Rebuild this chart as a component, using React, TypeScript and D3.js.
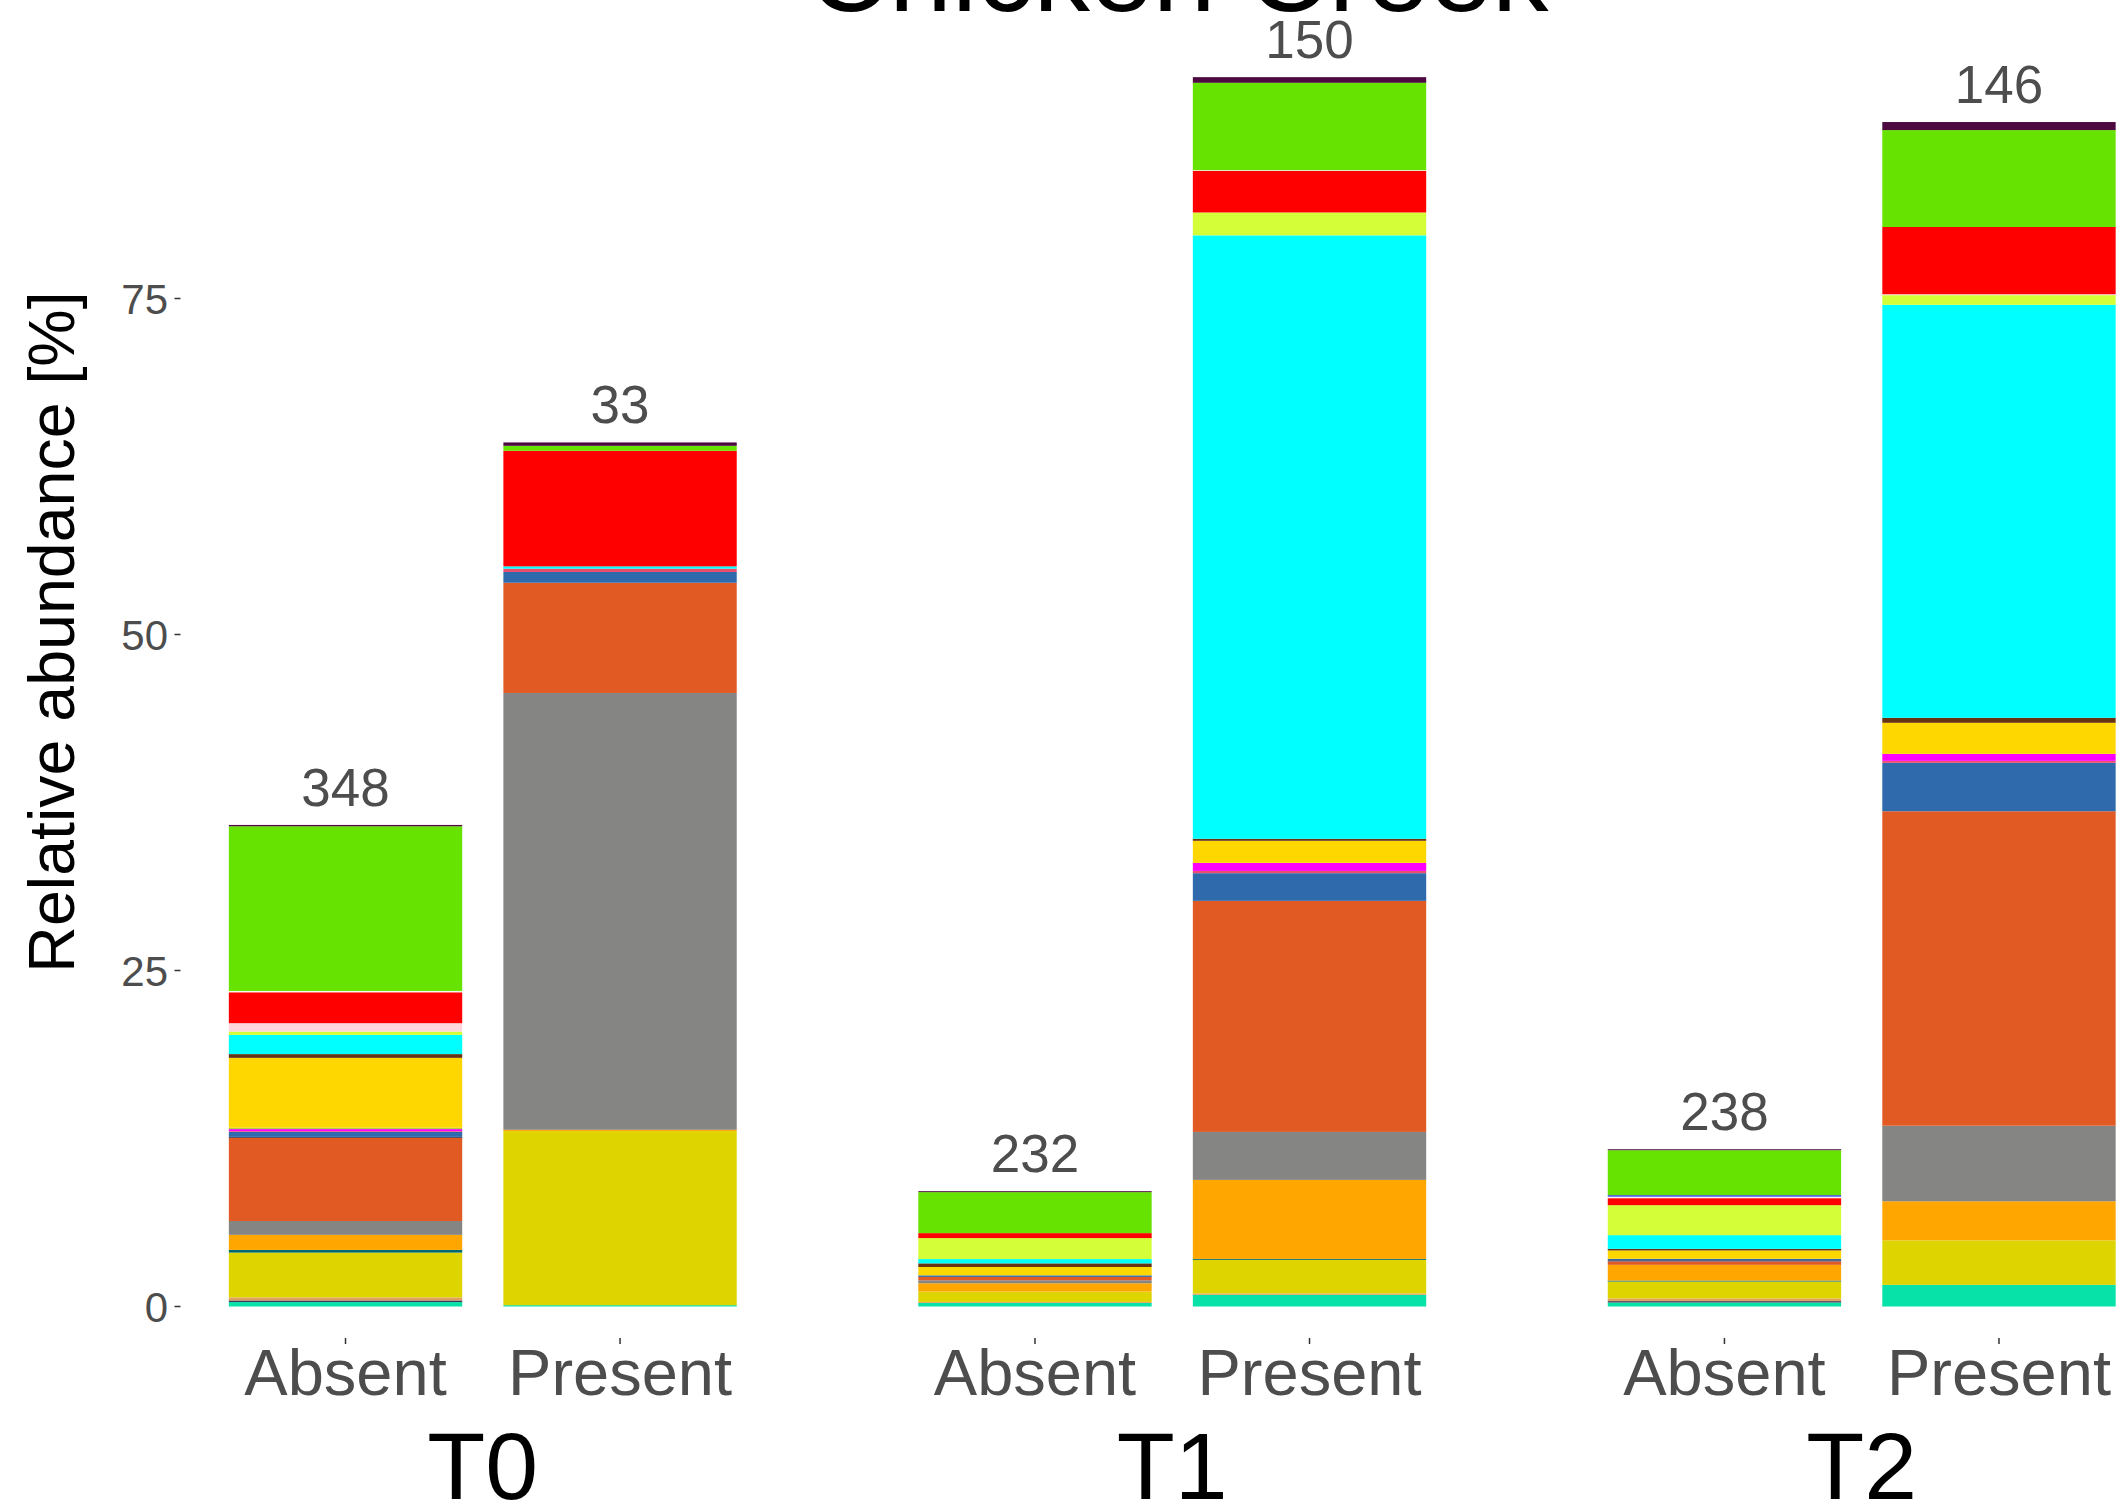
import React, { useEffect, useRef } from "react";
import * as d3 from "d3";

// facets / bars
const facets = ["T0", "T1", "T2"];
const conditions = ["Absent", "Present"];
const sampleCounts = [348, 33, 232, 150, 238, 146];
const yTicks = [0, 25, 50, 75];

// taxa, bottom of the stack first
const taxa = [
  "Taxon 01", "Taxon 02", "Taxon 03", "Taxon 04", "Taxon 05", "Taxon 06",
  "Taxon 07", "Taxon 08", "Taxon 09", "Taxon 10", "Taxon 11", "Taxon 12",
  "Taxon 13", "Taxon 14", "Taxon 15", "Taxon 16", "Taxon 17", "Taxon 18",
  "Taxon 19", "Taxon 20", "Taxon 21", "Taxon 22", "Taxon 23",
];
const taxonColors = [
  "#07E3A8", "#3C3A5C", "#E0A060", "#DDD400", "#006A6E", "#FFA600",
  "#858583", "#E15A24", "#4A4A6A", "#2F6BAC", "#EA4F6E", "#FF00FF",
  "#A8D040", "#FFD700", "#673313", "#00FFFF", "#D4FF38", "#FFD6DD",
  "#FF0000", "#F4F8EC", "#1E1EFF", "#66E300", "#4D0A40",
];

// relative abundance [%] per taxon
const t0Absent = [0.33, 0.12, 0.23, 3.33, 0.2, 1.12, 1.03, 6.18, 0.08, 0.38, 0.05, 0.15, 0.1, 5.2, 0.28, 1.43, 0.25, 0.62, 2.3, 0.1, 0, 12.25, 0.1];
const t0Present = [0.1, 0, 0, 12.95, 0, 0.1, 32.5, 8.2, 0, 0.8, 0.25, 0, 0, 0, 0, 0.17, 0, 0, 8.6, 0, 0, 0.37, 0.25];
const t1Absent = [0.27, 0, 0.07, 0.77, 0, 0.62, 0.22, 0.25, 0, 0.12, 0, 0, 0, 0.62, 0.27, 0.32, 1.56, 0, 0.37, 0, 0, 3.05, 0.07];
const t1Present = [0.87, 0, 0.1, 2.5, 0.07, 5.88, 3.57, 17.19, 0, 2.06, 0.17, 0.6, 0, 1.64, 0.15, 44.9, 1.7, 0, 3.1, 0.05, 0, 6.5, 0.42];
const t2Absent = [0.3, 0.1, 0.2, 1.26, 0.07, 1.17, 0, 0.25, 0.1, 0.1, 0, 0, 0, 0.62, 0.12, 1.02, 2.23, 0, 0.52, 0.12, 0.1, 3.35, 0.07];
const t2Present = [1.61, 0, 0, 3.31, 0, 2.91, 5.62, 23.4, 0, 3.6, 0.15, 0.52, 0, 2.31, 0.37, 30.73, 0.72, 0.07, 5.0, 0, 0, 7.21, 0.6];

const barValues = [t0Absent, t0Present, t1Absent, t1Present, t2Absent, t2Present];

const FONT = "'Liberation Sans', Arial, Helvetica, sans-serif";

export default function App() {
  const ref = useRef<SVGSVGElement>(null);

  useEffect(() => {
    const svg = d3.select(ref.current);
    svg.selectAll("*").remove();

    const rows = barValues.map((vals, i) => {
      const row: any = {
        facet: facets[Math.floor(i / 2)],
        cond: conditions[i % 2],
        n: sampleCounts[i],
        total: d3.sum(vals),
      };
      taxa.forEach((t, k) => (row[t] = vals[k]));
      return row;
    });

    const color = d3.scaleOrdinal<string, string>().domain(taxa).range(taxonColors);

    const y = d3.scaleLinear().domain([0, 75]).range([1306.5, 298.5]);
    const fx = d3.scaleBand().domain(facets).range([180.8, 2163.7]).paddingInner(0.124);
    const x = d3
      .scaleBand()
      .domain(conditions)
      .range([0, fx.bandwidth()])
      .paddingInner(0.15)
      .paddingOuter(0.175);

    const stacked = d3.stack<any>().keys(taxa)(rows);

    // stacked bars
    svg
      .append("g")
      .selectAll("g")
      .data(stacked)
      .enter()
      .append("g")
      .attr("fill", (d) => color(d.key))
      .selectAll("rect")
      .data((d) => d.filter((s) => s[1] - s[0] > 0))
      .enter()
      .append("rect")
      .attr("x", (d) => fx(d.data.facet)! + x(d.data.cond)!)
      .attr("y", (d) => y(d[1]))
      .attr("width", x.bandwidth())
      .attr("height", (d) => y(d[0]) - y(d[1]));

    // sample counts above bars
    svg
      .append("g")
      .selectAll("text")
      .data(rows)
      .enter()
      .append("text")
      .attr("x", (d) => fx(d.facet)! + x(d.cond)! + x.bandwidth() / 2)
      .attr("y", (d) => y(d.total) - 19)
      .attr("text-anchor", "middle")
      .style("font-family", FONT)
      .style("font-size", "53px")
      .style("fill", "#4D4D4D")
      .text((d) => d.n);

    // y axis
    const yAxis = svg.append("g");
    yAxis
      .selectAll("line")
      .data(yTicks)
      .enter()
      .append("line")
      .attr("x1", 174.5)
      .attr("x2", 180.5)
      .attr("y1", (d) => y(d))
      .attr("y2", (d) => y(d))
      .attr("stroke", "#333333")
      .attr("stroke-width", 1.5);
    yAxis
      .selectAll("text")
      .data(yTicks)
      .enter()
      .append("text")
      .attr("x", 168)
      .attr("y", (d) => y(d))
      .attr("dy", "0.36em")
      .attr("text-anchor", "end")
      .style("font-family", FONT)
      .style("font-size", "42px")
      .style("fill", "#4D4D4D")
      .text((d) => d);

    svg
      .append("text")
      .attr("transform", "translate(74,632) rotate(-90)")
      .attr("text-anchor", "middle")
      .style("font-family", FONT)
      .style("font-size", "64.5px")
      .style("fill", "#000000")
      .text("Relative abundance [%]");

    // x axis per facet
    const cells = facets.flatMap((f) => conditions.map((c) => ({ f, c })));
    const xAxis = svg.append("g");
    xAxis
      .selectAll("line")
      .data(cells)
      .enter()
      .append("line")
      .attr("x1", (d) => fx(d.f)! + x(d.c)! + x.bandwidth() / 2)
      .attr("x2", (d) => fx(d.f)! + x(d.c)! + x.bandwidth() / 2)
      .attr("y1", 1338)
      .attr("y2", 1344)
      .attr("stroke", "#333333")
      .attr("stroke-width", 1.5);
    xAxis
      .selectAll("text")
      .data(cells)
      .enter()
      .append("text")
      .attr("x", (d) => fx(d.f)! + x(d.c)! + x.bandwidth() / 2)
      .attr("y", 1395)
      .attr("text-anchor", "middle")
      .style("font-family", FONT)
      .style("font-size", "65px")
      .style("fill", "#4D4D4D")
      .text((d) => d.c);

    // facet strips at the bottom
    svg
      .append("g")
      .selectAll("text")
      .data(facets)
      .enter()
      .append("text")
      .attr("x", (d) => fx(d)! + fx.bandwidth() / 2)
      .attr("y", 1499)
      .attr("text-anchor", "middle")
      .style("font-family", FONT)
      .style("font-size", "95px")
      .style("fill", "#000000")
      .text((d) => d);

    // title, cut by the top edge
    svg
      .append("text")
      .attr("x", 1178)
      .attr("y", 11)
      .attr("text-anchor", "middle")
      .style("font-family", FONT)
      .style("font-size", "113px")
      .style("fill", "#000000")
      .text("Chicken Creek");
  }, []);

  return (
    <svg
      ref={ref}
      width={2116}
      height={1509}
      style={{ position: "absolute", left: 0, top: 0, background: "#ffffff" }}
    />
  );
}
